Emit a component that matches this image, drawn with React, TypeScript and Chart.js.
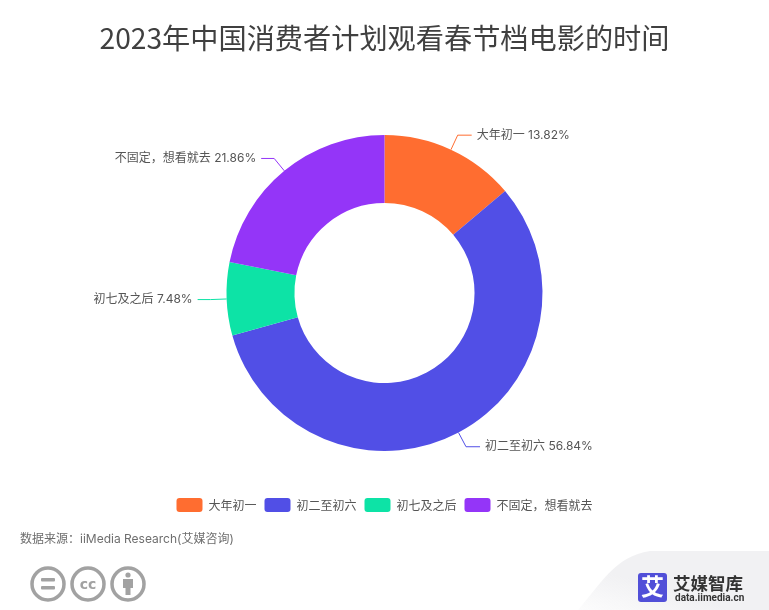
import React, { useEffect, useRef } from "react";
import { Chart, registerables } from "chart.js";

Chart.register(...registerables);

const titleText = "2023年中国消费者计划观看春节档电影的时间";
const categories = ["大年初一", "初二至初六", "初七及之后", "不固定，想看就去"];
const shares = [13.82, 56.84, 7.48, 21.86];
const colors = ["#FF6D30", "#514FE6", "#0DE3A6", "#9435F8"];
const sourceText = "数据来源：iiMedia Research(艾媒咨询)";
const FONT = '"Noto Sans CJK SC", "Noto Sans", sans-serif';
const LABEL_FONT = 'Inter, "Noto Sans CJK SC", sans-serif';

const leaderPlugin = {
  id: "leaderLabels",
  afterDatasetsDraw(chart: any) {
    const { ctx } = chart;
    const meta = chart.getDatasetMeta(0);
    ctx.save();
    ctx.font = `12px ${LABEL_FONT}`;
    ctx.textBaseline = "middle";
    meta.data.forEach((arc: any, i: number) => {
      const p = arc.getProps(["x", "y", "startAngle", "endAngle", "outerRadius"], true);
      const mid = (p.startAngle + p.endAngle) / 2;
      const cos = Math.cos(mid);
      const sin = Math.sin(mid);
      const right = cos >= 0;
      const ax = p.x + p.outerRadius * cos;
      const ay = p.y + p.outerRadius * sin;
      const ex = p.x + (p.outerRadius + 16) * cos;
      const ey = p.y + (p.outerRadius + 16) * sin;
      const hx = ex + (right ? 14 : -13);
      ctx.strokeStyle = colors[i];
      ctx.lineWidth = 1;
      ctx.beginPath();
      ctx.moveTo(ax, ay);
      ctx.lineTo(ex, ey);
      ctx.lineTo(hx, ey);
      ctx.stroke();
      ctx.fillStyle = "#555";
      ctx.textAlign = right ? "left" : "right";
      ctx.fillText(`${categories[i]} ${shares[i].toFixed(2)}%`, hx + (right ? 5 : -5), ey);
    });
    ctx.restore();
  },
};

function Footer() {
  const grey = "#A2A2A2";
  return (
    <svg
      width={769}
      height={610}
      style={{ position: "absolute", left: 0, top: 0, pointerEvents: "none" }}
    >
      <defs>
        <linearGradient id="corner" x1="0" y1="1" x2="1" y2="0">
          <stop offset="0" stopColor="#F1F1F3" stopOpacity="0.2" />
          <stop offset="0.4" stopColor="#F1F1F3" />
          <stop offset="1" stopColor="#F1F1F3" />
        </linearGradient>
      </defs>
      <path d="M 578 610 C 600 585, 615 556, 650 551 L 769 551 L 769 610 Z" fill="url(#corner)" />
      <text x={20} y={543} fontSize={12} fill="#6E6E6E" fontFamily={LABEL_FONT}>
        {sourceText}
      </text>
      <g fill="none" stroke={grey} strokeWidth={3.5}>
        <circle cx={48} cy={584} r={16} />
        <circle cx={88} cy={584} r={16} />
        <circle cx={128} cy={584} r={16} />
      </g>
      <g fill={grey}>
        <rect x={41} y={578} width={14} height={3.5} rx={1} />
        <rect x={41} y={586} width={14} height={3.5} rx={1} />
        <circle cx={128} cy={575} r={2.6} />
        <path d="M 123 579 H 133 V 588 H 130.5 V 595 H 125.5 V 588 H 123 Z" />
      </g>
      <text x={88} y={589} fontSize={14} fontWeight={700} fill={grey} textAnchor="middle" fontFamily="'DejaVu Sans', sans-serif">
        cc
      </text>
      <rect x={638} y={573} width={29} height={29} rx={3} fill="#514FD8" />
      <text x={652.5} y={595} fontSize={23} fontWeight={700} fill="#fff" textAnchor="middle" fontFamily={FONT}>
        艾
      </text>
      <text x={673} y={590} fontSize={17.5} fontWeight={700} fill="#333" fontFamily={FONT}>
        艾媒智库
      </text>
      <text x={675} y={601} fontSize={10} fontWeight={700} fill="#333" fontFamily="Roboto, sans-serif">
        data.iimedia.cn
      </text>
    </svg>
  );
}

export default function App() {
  const ref = useRef<HTMLCanvasElement>(null);

  useEffect(() => {
    const chart = new Chart(ref.current!, {
      type: "doughnut",
      data: {
        labels: categories,
        datasets: [{ data: shares, backgroundColor: colors, borderWidth: 0, borderRadius: 0 }],
      },
      options: {
        animation: false,
        responsive: false,
        radius: 158,
        cutout: "57%",
        layout: { padding: { bottom: 88 } },
        plugins: {
          tooltip: { enabled: false },
          title: {
            display: true,
            text: titleText,
            color: "#404040",
            font: { family: FONT, size: 28.2, weight: "normal", lineHeight: 1.2 },
            padding: { top: 21, bottom: 41.2 },
          },
          legend: {
            display: true,
            position: "bottom",
            onClick: () => {},
            labels: {
              color: "#555",
              font: { family: FONT, size: 12 },
              boxWidth: 26,
              boxHeight: 14,
              padding: 8,
              useBorderRadius: true,
              borderRadius: 3,
            },
          },
        },
      } as any,
      plugins: [leaderPlugin],
    });
    return () => chart.destroy();
  }, []);

  return (
    <div style={{ position: "absolute", left: 0, top: 0, width: 769, height: 610, background: "#fff", overflow: "hidden" }}>
      <canvas ref={ref} width={769} height={610} style={{ display: "block" }} />
      <Footer />
    </div>
  );
}
